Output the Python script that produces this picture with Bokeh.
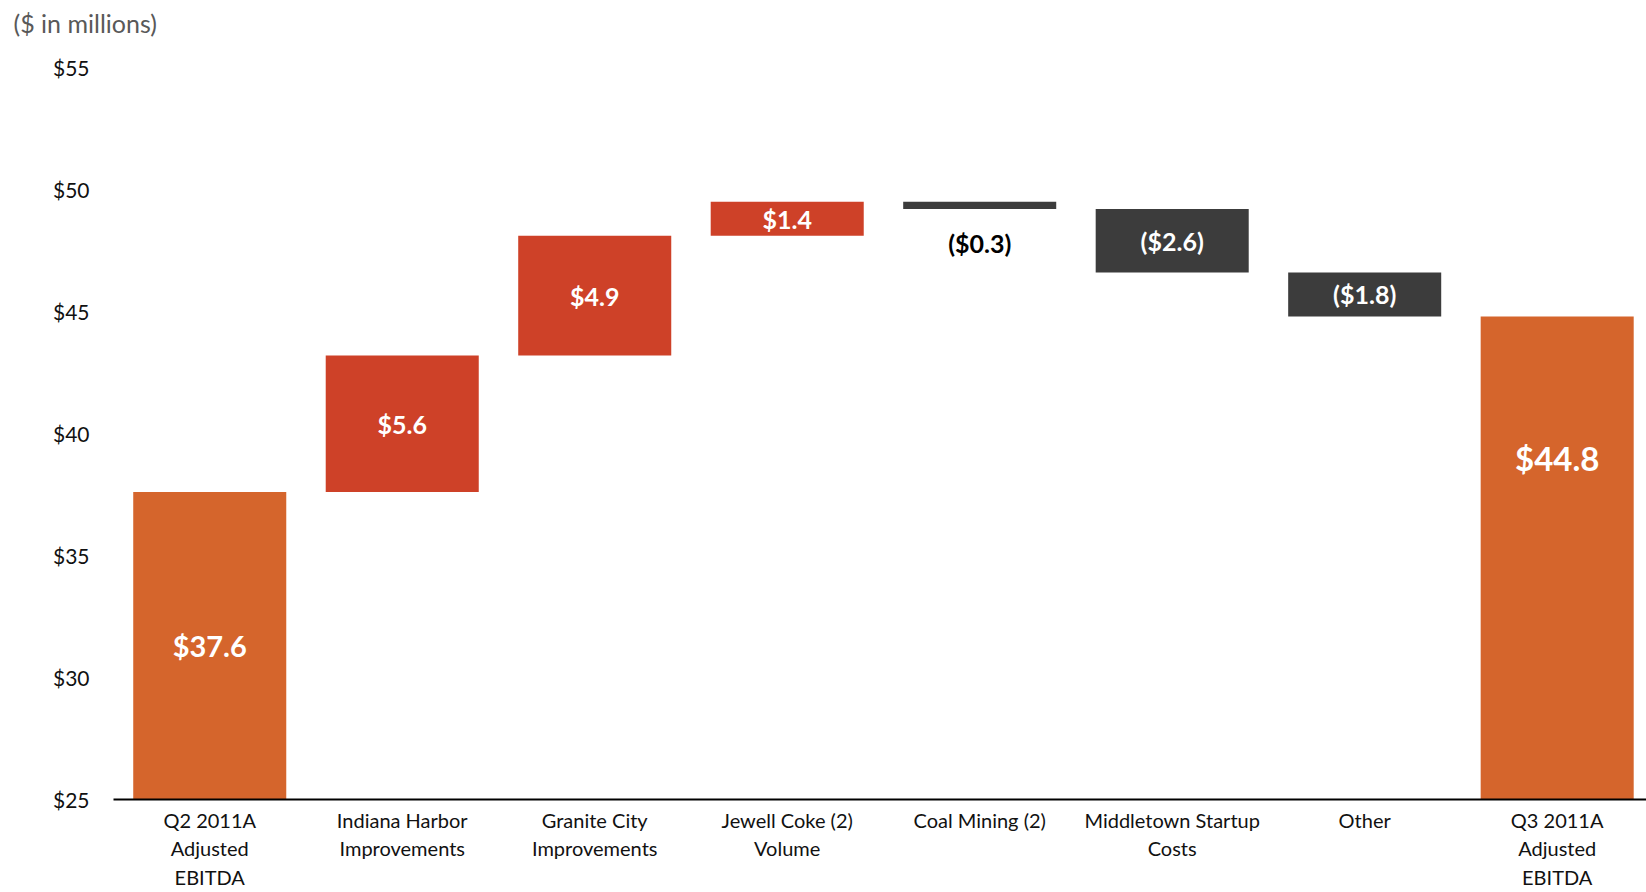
from bokeh.plotting import figure
from bokeh.models import Range1d, FixedTicker, ColumnDataSource
from bokeh.core.properties import value
from bokeh.embed import file_html
from bokeh.resources import INLINE

# ---------------- data ----------------
categories = [
    "Q2 2011A\nAdjusted\nEBITDA",
    "Indiana Harbor\nImprovements",
    "Granite City\nImprovements",
    "Jewell Coke (2)\nVolume",
    "Coal Mining (2)",
    "Middletown Startup\nCosts",
    "Other",
    "Q3 2011A\nAdjusted\nEBITDA",
]
amounts = [37.6, 5.6, 4.9, 1.4, -0.3, -2.6, -1.8, 44.8]
kinds = ["total", "delta", "delta", "delta", "delta", "delta", "delta", "total"]
value_labels = ["$37.6", "$5.6", "$4.9", "$1.4", "($0.3)", "($2.6)", "($1.8)", "$44.8"]
y_ticks = [25, 30, 35, 40, 45, 50, 55]
y_tick_labels = ["$25", "$30", "$35", "$40", "$45", "$50", "$55"]
unit_note = "($ in millions)"

# ---------------- style ----------------
FONT = "Lato"
C_TOTAL = "#D5652C"
C_UP = "#CE4128"
C_DOWN = "#3C3C3C"
Y_MIN, Y_MAX = 25, 55

# waterfall geometry derived from the values
xs, bottoms, tops, colors = [], [], [], []
running = 0.0
for i, (a, k) in enumerate(zip(amounts, kinds)):
    xs.append(i)
    if k == "total":
        bottoms.append(0.0)
        tops.append(a)
        colors.append(C_TOTAL)
        running = a
    else:
        new = running + a
        bottoms.append(min(running, new))
        tops.append(max(running, new))
        colors.append(C_UP if a > 0 else C_DOWN)
        running = new

p = figure(
    width=1646, height=892,
    x_range=Range1d(-0.5, 7.464), y_range=Range1d(Y_MIN, Y_MAX),
    output_backend="svg", toolbar_location=None,
    min_border_left=113, min_border_right=0,
    min_border_top=67, min_border_bottom=93,
    title=unit_note + "\n ",
)
p.title.align = "left"
p.title.vertical_align = "bottom"
p.title.offset = -100
p.title.text_font = FONT
p.title.text_font_size = "25px"
p.title.text_font_style = "normal"
p.title.text_color = "#595959"
p.title.standoff = 0

p.outline_line_color = None
p.xgrid.visible = False
p.ygrid.visible = False
p.background_fill_color = "white"
p.border_fill_color = "white"

bars = ColumnDataSource(dict(x=xs, bottom=bottoms, top=tops, color=colors))
p.vbar(x="x", bottom="bottom", top="top", width=0.795, color="color",
       source=bars, line_color=None)

# y axis
p.yaxis.ticker = FixedTicker(ticks=y_ticks)
p.yaxis.major_label_overrides = {t: l for t, l in zip(y_ticks, y_tick_labels)}
p.yaxis.axis_line_color = None
p.yaxis.major_tick_line_color = None
p.yaxis.minor_tick_line_color = None
p.yaxis.major_label_standoff = 18
p.yaxis.major_label_text_font = FONT
p.yaxis.major_label_text_font_size = "21px"
p.yaxis.major_label_text_color = "#111111"

# x axis
p.xaxis.ticker = FixedTicker(ticks=xs)
p.xaxis.major_label_overrides = {x: c for x, c in zip(xs, categories)}
p.xaxis.axis_line_color = "black"
p.xaxis.axis_line_width = 2
p.xaxis.major_tick_line_color = None
p.xaxis.minor_tick_line_color = None
p.xaxis.major_label_standoff = 2
p.xaxis.major_label_text_font = FONT
p.xaxis.major_label_text_font_size = "20px"
p.xaxis.major_label_text_color = "#111111"
p.xaxis.major_label_text_line_height = 1.2

# value labels
in_big, in_small, out_small = [], [], []
for i, (a, k) in enumerate(zip(amounts, kinds)):
    if k == "total":
        lo = max(bottoms[i], Y_MIN)
        # first total centred in bar, closing total set higher in its bar
        ly = (lo + tops[i]) / 2 if i == 0 else tops[i] - 5.8
        in_big.append((i, ly, value_labels[i], "29px" if i == 0 else "33px"))
    elif abs(a) < 0.5:
        out_small.append((i, bottoms[i] - 1.4, value_labels[i]))
    else:
        in_small.append((i, (bottoms[i] + tops[i]) / 2, value_labels[i]))

for (i, ly, t, fs) in in_big:
    p.text(x=[i], y=[ly], text=[t], text_align="center", text_baseline="middle",
           text_font=value(FONT), text_font_style="bold", text_font_size=fs,
           text_color="white")
p.text(x=[r[0] for r in in_small], y=[r[1] for r in in_small],
       text=[r[2] for r in in_small], text_align="center", text_baseline="middle",
       text_font=value(FONT), text_font_style="bold", text_font_size="25px",
       text_color="white")
p.text(x=[r[0] for r in out_small], y=[r[1] for r in out_small],
       text=[r[2] for r in out_small], text_align="center", text_baseline="middle",
       text_font=value(FONT), text_font_style="bold", text_font_size="25px",
       text_color="black")

open("out.html", "w").write(file_html(p, INLINE))
